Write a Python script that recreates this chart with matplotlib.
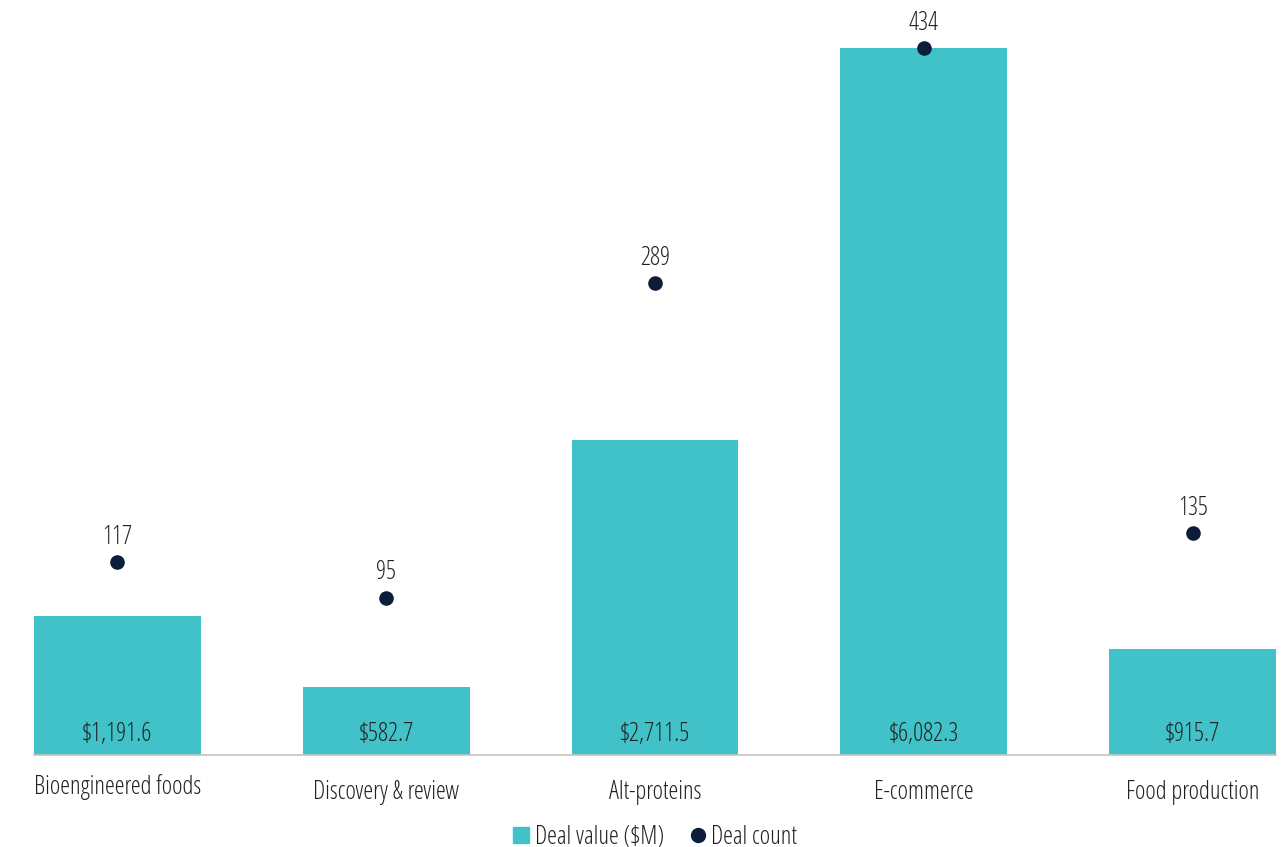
import matplotlib.pyplot as plt
from matplotlib.lines import Line2D

plt.rcParams['font.family'] = ['Open Sans', 'DejaVu Sans']
plt.rcParams['font.stretch'] = 'condensed'
plt.rcParams['font.weight'] = 'light'

categories = ['Bioengineered foods', 'Discovery & review', 'Alt-proteins', 'E-commerce', 'Food production']
deal_value = [1191.6, 582.7, 2711.5, 6082.3, 915.7]
deal_count = [117, 95, 289, 434, 135]
value_labels = ['$1,191.6', '$582.7', '$2,711.5', '$6,082.3', '$915.7']

teal = '#40c2c8'
navy = '#0b1d3a'
text_col = '#222222'
fs = 18

fig = plt.figure(figsize=(12.86, 8.47), dpi=100)
ax = fig.add_axes([34 / 1286, 1 - 755 / 847, 1242 / 1286, 755 / 847])
ax2 = ax.twinx()

x = list(range(len(categories)))
ax.bar(x, deal_value, width=0.62, color=teal, zorder=2)
ax.set_xlim(-0.31, len(categories) - 1 + 0.31)
ax.set_ylim(0, 6495)
ax2.set_ylim(-1.8, 463.6)

for i, lab in enumerate(value_labels):
    ax.annotate(lab, xy=(i, 0), xytext=(0, 15), textcoords='offset points',
                ha='center', va='center', fontsize=fs, color=text_col)

ax2.scatter(x, deal_count, s=90, color=navy, zorder=3)
for i, c in enumerate(deal_count):
    ax2.annotate(str(c), xy=(i, c), xytext=(0, 18), textcoords='offset points',
                 ha='center', va='center', fontsize=fs, color=text_col)

for i, name in enumerate(categories):
    off = -23 if i == 0 else -27
    ax.annotate(name, xy=(i, 0), xycoords=('data', 'axes fraction'),
                xytext=(0, off), textcoords='offset points',
                ha='center', va='center', fontsize=fs, color=text_col)

for a in (ax, ax2):
    for s in ['top', 'right', 'left']:
        a.spines[s].set_visible(False)
    a.set_yticks([])
    a.set_xticks([])
ax2.spines['bottom'].set_visible(False)
ax.spines['bottom'].set_color('#c9c4c0')
ax.spines['bottom'].set_linewidth(1.2)

handles = [Line2D([], [], marker='s', color='none', markerfacecolor=teal, markeredgecolor=teal, markersize=11),
           Line2D([], [], marker='o', color='none', markerfacecolor=navy, markeredgecolor=navy, markersize=10)]
fig.legend(handles, ['Deal value ($M)', 'Deal count'], loc='center', bbox_to_anchor=(0.509, 1 - 837 / 847),
           ncol=2, frameon=False, fontsize=fs, handlelength=0.7, handletextpad=0.2, columnspacing=1.0,
           labelcolor=text_col)

fig.savefig('out.png', dpi=100)
